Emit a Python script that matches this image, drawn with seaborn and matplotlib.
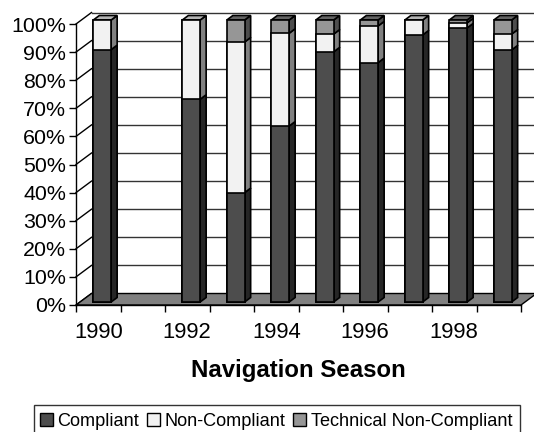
# Navigation season compliance, fake-3D stacked columns

import numpy as np
import pandas as pd
import matplotlib
matplotlib.use("Agg")
import matplotlib.pyplot as plt
import seaborn as sns
from matplotlib.patches import Patch, Polygon, Rectangle

seasons = ['1990', '1991', '1992', '1993', '1994', '1995', '1996', '1997', '1998', '1999']
compliant = [89.5, np.nan, 71.9, 38.8, 62.4, 88.7, 84.9, 94.7, 97.2, 89.4]
non_compliant = [10.5, np.nan, 28.1, 53.4, 32.9, 6.3, 13.0, 5.3, 1.8, 5.6]
technical = [0.0, np.nan, 0.0, 7.8, 4.7, 5.0, 2.1, 0.0, 1.0, 5.0]
percent_ticks = list(range(0, 101, 10))
year_labels = ['1990', '', '1992', '', '1994', '', '1996', '', '1998', '']
series_names = ['Compliant', 'Non-Compliant', 'Technical Non-Compliant']

face_colors = ['#4d4d4d', '#f2f2f2', '#969696']
side_colors = ['#262626', '#808080', '#4d4d4d']
top_colors = ['#333333', '#b4b4b4', '#636363']

W, H = 534, 432
LEFT, RIGHT, FRONT0, FRONT100 = 76, 521, 305, 24
PX_X = (RIGHT - LEFT) / 10
PX_Y = 2.82

plt.rcParams['font.family'] = ['Liberation Sans', 'DejaVu Sans']

df = pd.DataFrame({'season': seasons, 'c': compliant, 'n': non_compliant, 't': technical})
df['c_top'] = df['c']
df['n_top'] = df['c'] + df['n']
df['t_top'] = df['n_top'] + df['t']

fig = plt.figure(figsize=(W / 100, H / 100), dpi=100)
ax = fig.add_axes([LEFT / W, 1 - FRONT0 / H, (RIGHT - LEFT) / W, (FRONT0 - FRONT100) / H])

# bars stand a little behind the front edge of the floor
bar_dx, bar_dy = 4 / PX_X, 3 / PX_Y
xmin, xmax = -0.5 - bar_dx, 9.5 - bar_dx
ymin = -bar_dy
ymax = ymin + (FRONT0 - FRONT100) / PX_Y
depth_x, depth_y = 15.5 / PX_X, 11.5 / PX_Y
bar_depth_x, bar_depth_y = 6 / PX_X, 4.5 / PX_Y
wall = lambda v: ymin + v * (ymax - ymin) / 100

# back wall grid + left wall diagonals
for v in percent_ticks:
    ax.plot([xmin, xmin + depth_x], [wall(v), wall(v) + depth_y], color='black', lw=1, clip_on=False, zorder=1)
    if v > 0:
        ax.plot([xmin + depth_x, xmax + depth_x], [wall(v) + depth_y] * 2, color='#333333', lw=1, clip_on=False, zorder=1)

floor = [(xmin, wall(0)), (xmax, wall(0)), (xmax + depth_x, wall(0) + depth_y), (xmin + depth_x, wall(0) + depth_y)]
ax.add_patch(Polygon(floor, closed=True, facecolor='#808080', edgecolor='black', lw=1, clip_on=False, zorder=2))

# stack by overplotting, tallest first
bar_width = 0.4
for col, color in [('t_top', face_colors[2]), ('n_top', face_colors[1]), ('c_top', face_colors[0])]:
    sns.barplot(data=df, x='season', y=col, order=seasons, color=color, saturation=1, width=bar_width,
                errorbar=None, edgecolor='black', linewidth=1.2, ax=ax, zorder=4, clip_on=False)

# side and top faces of each column
for i, row in df.iterrows():
    if np.isnan(row['c']):
        continue
    x1 = i + bar_width / 2
    x0 = i - bar_width / 2
    bottom = 0
    tops = [row['c_top'], row['n_top'], row['t_top']]
    for k, top in enumerate(tops):
        if top <= bottom:
            continue
        side = [(x1, bottom), (x1 + bar_depth_x, bottom + bar_depth_y),
                (x1 + bar_depth_x, top + bar_depth_y), (x1, top)]
        ax.add_patch(Polygon(side, closed=True, facecolor=side_colors[k], edgecolor='black', lw=1.2, clip_on=False, zorder=3))
        last = k
        bottom = top
    cap = [(x0, bottom), (x1, bottom), (x1 + bar_depth_x, bottom + bar_depth_y), (x0 + bar_depth_x, bottom + bar_depth_y)]
    ax.add_patch(Polygon(cap, closed=True, facecolor=top_colors[last], edgecolor='black', lw=1.2, clip_on=False, zorder=3))

ax.set_xlim(xmin, xmax)
ax.set_ylim(ymin, ymax)
sns.despine(ax=ax, top=True, right=True)
for s in ['left', 'bottom']:
    ax.spines[s].set_linewidth(1)
    ax.spines[s].set_zorder(5)
ax.patch.set_alpha(0)

ax.set_yticks([wall(v) for v in percent_ticks])
ax.set_yticklabels([f'{v}%' for v in percent_ticks], fontsize=15.4)
ax.tick_params(axis='y', length=5, width=1, pad=2)

ax.set_xticks(np.arange(11) - 0.5 - bar_dx)
ax.set_xticklabels([])
ax.set_xticks(np.arange(10) - bar_dx, minor=True)
ax.set_xticklabels(year_labels, minor=True, fontsize=15.8)
ax.tick_params(axis='x', which='major', length=5, width=1)
ax.tick_params(axis='x', which='minor', length=0, pad=12)
ax.set_xlabel('')
ax.set_ylabel('')

fig.text(298 / W, 1 - 377 / H, 'Navigation Season', fontsize=17.3, fontweight='bold', ha='center', va='baseline')

# legend box runs off the bottom edge of the image, so no lower border shows
handles = [Patch(facecolor=c, edgecolor='black', lw=1) for c in face_colors]
fig.add_artist(Rectangle((34 / W, -10 / H), (520 - 34) / W, (H - 405 + 10) / H, transform=fig.transFigure,
                         facecolor='white', edgecolor='#333333', lw=1))
leg = fig.legend(handles, series_names, ncol=3, loc='center', bbox_to_anchor=(276 / W, 1 - 421 / H), frameon=False,
                 fontsize=13.1, handlelength=0.7, handleheight=0.7, handletextpad=0.25, columnspacing=0.45, borderpad=0)

fig.savefig('out.png', dpi=100)
